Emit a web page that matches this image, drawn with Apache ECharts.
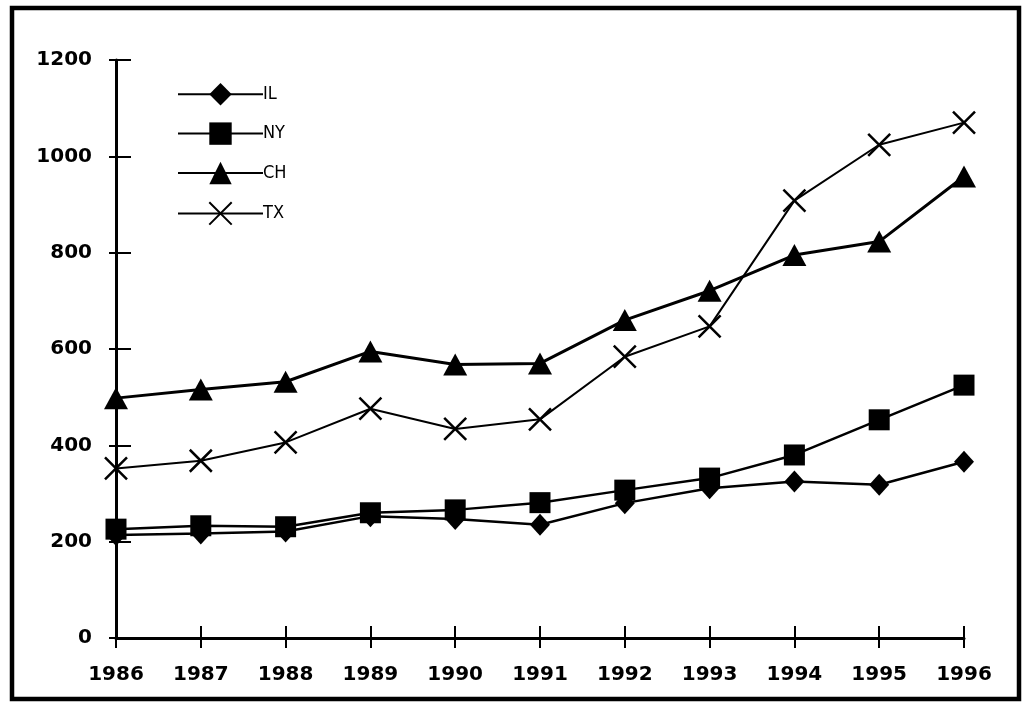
<!DOCTYPE html>
<html>
<head>
<meta charset="utf-8">
<script src="https://cdn.jsdelivr.net/npm/echarts@6/dist/echarts.min.js"></script>
<style>
  html, body { margin: 0; padding: 0; background: #fff; }
  #main { width: 1026px; height: 712px; }
</style>
</head>
<body>
<div id="main"></div>
<script>
// 数据
var years = ['1986', '1987', '1988', '1989', '1990', '1991', '1992', '1993', '1994', '1995', '1996'];
var il = [214, 217, 221, 253, 247, 235, 280, 311, 325, 318, 366];
var ny = [226, 233, 231, 260, 266, 281, 307, 332, 380, 453, 525];
var ch = [498, 516, 532, 595, 568, 570, 660, 721, 795, 823, 958];
var tx = [352, 368, 406, 476, 434, 454, 584, 647, 908, 1024, 1070];
var yTicks = [0, 200, 400, 600, 800, 1000, 1200];

var myChart = echarts.init(document.getElementById('main'));

var labelFont = {
    color: '#000',
    fontFamily: 'DejaVu Sans',
    fontWeight: 'bold',
    fontSize: 20
};
var crossSymbol = 'path://M0,0L10,10M10,0L0,10';

var option = {
    animation: false,
    backgroundColor: '#fff',
    graphic: [{
        type: 'rect',
        shape: { x: 12, y: 8, width: 1007, height: 691 },
        style: { fill: 'none', stroke: '#000', lineWidth: 4.5 }
    }],
    grid: { left: 116, right: 62, top: 60, bottom: 74 },
    legend: {
        orient: 'vertical',
        left: 172,
        top: 78,
        itemWidth: 85,
        itemHeight: 28,
        itemGap: 17,
        textStyle: {
            color: '#000',
            fontFamily: ['DejaVu Sans Condensed', 'Liberation Sans', 'sans-serif'],
            fontSize: 18,
            padding: [0, 0, 0, -5]
        },
        data: ['IL', 'NY', 'CH', 'TX']
    },
    xAxis: [{
        type: 'category',
        data: years,
        boundaryGap: false,
        axisLine: { lineStyle: { color: '#000', width: 3 } },
        axisTick: { length: 10, lineStyle: { color: '#000', width: 2 } },
        axisLabel: Object.assign({ margin: 27 }, labelFont),
        splitLine: { show: false }
    }, {
        type: 'category',
        data: years,
        position: 'bottom',
        boundaryGap: false,
        axisLine: { show: false },
        axisTick: { inside: true, length: 12, lineStyle: { color: '#000', width: 2 } },
        axisLabel: { show: false },
        splitLine: { show: false }
    }],
    yAxis: [{
        type: 'value',
        min: yTicks[0],
        max: yTicks[yTicks.length - 1],
        interval: 200,
        axisLine: { show: true, lineStyle: { color: '#000', width: 3 } },
        axisTick: { show: true, length: 7, lineStyle: { color: '#000', width: 2 } },
        axisLabel: Object.assign({ margin: 24, formatter: function (v) { return String(v); } }, labelFont),
        splitLine: { show: false }
    }, {
        type: 'value',
        position: 'left',
        min: yTicks[0],
        max: yTicks[yTicks.length - 1],
        interval: 200,
        axisLine: { show: false },
        axisTick: { show: true, inside: true, length: 15, lineStyle: { color: '#000', width: 2 } },
        axisLabel: { show: false },
        splitLine: { show: false }
    }],
    series: [{
        name: 'IL',
        type: 'line',
        data: il,
        symbol: 'diamond',
        symbolSize: [20, 22],
        showAllSymbol: true,
        lineStyle: { color: '#000', width: 2.5 },
        itemStyle: { color: '#000' }
    }, {
        name: 'NY',
        type: 'line',
        data: ny,
        symbol: 'rect',
        symbolSize: 21,
        showAllSymbol: true,
        lineStyle: { color: '#000', width: 2.5 },
        itemStyle: { color: '#000' }
    }, {
        name: 'CH',
        type: 'line',
        data: ch,
        symbol: 'triangle',
        symbolSize: [24, 22],
        showAllSymbol: true,
        lineStyle: { color: '#000', width: 3 },
        itemStyle: { color: '#000' }
    }, {
        name: 'TX',
        type: 'line',
        data: tx,
        symbol: crossSymbol,
        symbolSize: 22,
        showAllSymbol: true,
        lineStyle: { color: '#000', width: 2 },
        itemStyle: { color: '#000', borderColor: '#000', borderWidth: 2.5 }
    }]
};
myChart.setOption(option);
</script>
</body>
</html>
